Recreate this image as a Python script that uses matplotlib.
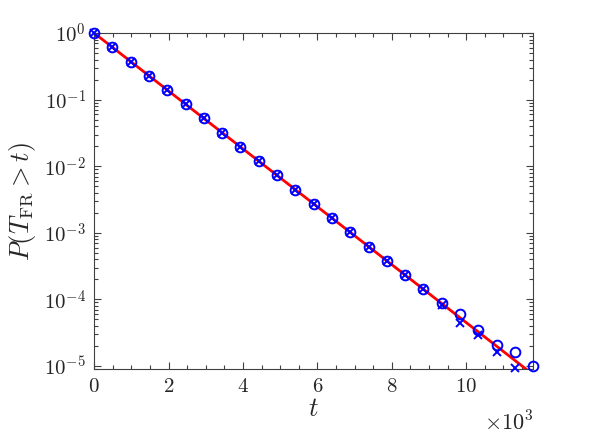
import matplotlib
matplotlib.use('Agg')
import matplotlib.pyplot as plt
from matplotlib.ticker import MultipleLocator, LogLocator, NullFormatter

plt.rcParams['mathtext.fontset'] = 'cm'
plt.rcParams['font.family'] = 'serif'
plt.rcParams['font.serif'] = ['DejaVu Serif']

# time in units of 10^3
t = [0.00, 0.49, 0.98, 1.48, 1.97, 2.46, 2.95, 3.44, 3.93, 4.43, 4.92, 5.41, 5.90,
     6.39, 6.88, 7.38, 7.87, 8.36, 8.85, 9.34, 9.83, 10.33, 10.82, 11.31, 11.80]
p_circle = [1.0, 0.613, 0.375, 0.228, 0.139, 0.0854, 0.0523, 0.0321, 0.0196,
            0.0119, 0.0073, 0.00448, 0.00274, 0.00168, 0.00103, 6.24e-4, 3.82e-4,
            2.34e-4, 1.43e-4, 8.8e-5, 6.0e-5, 3.5e-5, 2.1e-5, 1.6e-5, 1.0e-5]
t_cross = t[:24]
p_cross = [1.0, 0.613, 0.375, 0.228, 0.139, 0.0854, 0.0523, 0.0321, 0.0196,
           0.0119, 0.0073, 0.00448, 0.00274, 0.00168, 0.00103, 6.24e-4, 3.82e-4,
           2.34e-4, 1.43e-4, 8.2e-5, 4.5e-5, 2.9e-5, 1.65e-5, 9.4e-6]
# theory line end points (straight on semilog axes)
t_line = [0.0, 12.0]
p_line = [1.0, 6.1e-6]

ax_col = '#404040'

fig = plt.figure(figsize=(5.89, 4.42), dpi=100)
ax = fig.add_axes([0.16, 0.165, 0.745, 0.76])

ax.plot(t_line, p_line, color='red', lw=2.0, zorder=2)
ax.plot(t, p_circle, 'o', mfc='none', mec='blue', ms=7, mew=1.4, zorder=3, clip_on=False)
ax.plot(t_cross, p_cross, 'x', color='blue', ms=5.5, mew=1.4, zorder=3, clip_on=False)

ax.set_yscale('log')
ax.set_xlim(0, 11.8)
ax.set_ylim(9.0e-6, 1.0)

ax.xaxis.set_major_locator(MultipleLocator(2))
ax.xaxis.set_minor_locator(MultipleLocator(0.5))
ax.set_xticks([0, 2, 4, 6, 8, 10])
ax.set_xticklabels([r'$0$', r'$2$', r'$4$', r'$6$', r'$8$', r'$10$'])
ax.set_yticks([1e-5, 1e-4, 1e-3, 1e-2, 1e-1, 1])
ax.set_yticklabels([r'$10^{-5}$', r'$10^{-4}$', r'$10^{-3}$', r'$10^{-2}$',
                    r'$10^{-1}$', r'$10^{0}$'])
ax.yaxis.set_minor_locator(LogLocator(base=10, subs=range(2, 10), numticks=20))
ax.yaxis.set_minor_formatter(NullFormatter())

ax.tick_params(which='both', direction='in', top=True, right=True, colors=ax_col,
               labelcolor='#262626', labelsize=15, width=0.8)
ax.tick_params(which='major', length=5, pad=6)
ax.tick_params(which='minor', length=3)
for s in ax.spines.values():
    s.set_color(ax_col)
    s.set_linewidth(0.8)

ax.set_xlabel(r'$t$', fontsize=19, color='#262626', labelpad=0)
ax.set_ylabel(r'$P(T_{\rm FR} > t)$', fontsize=19, color='#262626', labelpad=4)
ax.text(1.0, -0.125, r'$\times10^{3}$', transform=ax.transAxes, ha='right', va='top',
        fontsize=16, color='#262626')

fig.savefig('out.png', dpi=100)
